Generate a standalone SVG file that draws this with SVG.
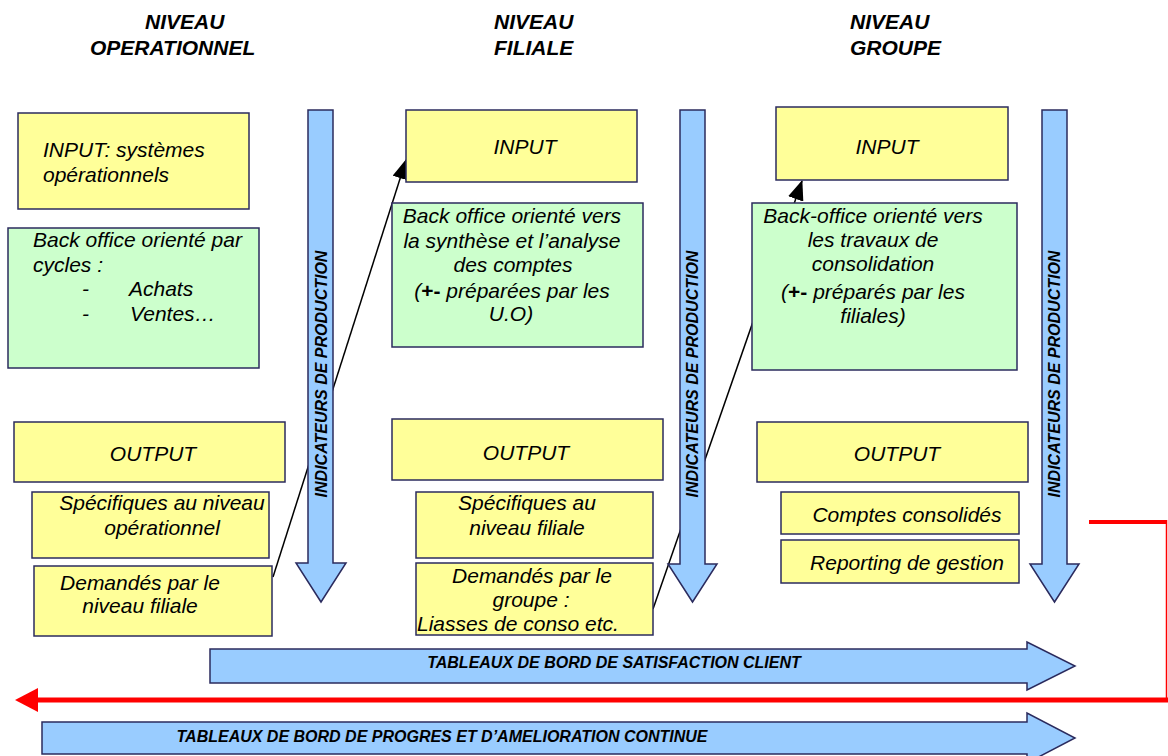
<svg xmlns="http://www.w3.org/2000/svg" width="1168" height="756" viewBox="0 0 1168 756">
  <style>
    .yel { fill: #FFFF99; stroke: #2B2B5E; stroke-width: 1.5; }
    .grn { fill: #CCFFCC; stroke: #2B2B5E; stroke-width: 1.5; }
    .blu { fill: #99CCFF; stroke: #2B2B5E; stroke-width: 1.5; }
    .t { font-family: "Liberation Sans", Arial, sans-serif; font-style: italic; font-size: 21px; fill: #000; }
    .m { text-anchor: middle; }
    .hd { font-family: "Liberation Sans", Arial, sans-serif; font-style: italic; font-weight: bold; font-size: 21px; fill: #000; }
    .al { font-family: "Liberation Sans", Arial, sans-serif; font-style: italic; font-weight: bold; font-size: 16px; fill: #000; text-anchor: middle; }
    .pm { font-weight: bold; font-style: normal; }
    .conn { stroke: #000; stroke-width: 1.5; fill: none; marker-end: url(#ah); }
  </style>
  <defs>
    <marker id="ah" markerUnits="userSpaceOnUse" markerWidth="20" markerHeight="16" refX="19" refY="8" orient="auto">
      <path d="M0,0 L20,8 L0,16 z" fill="#000"/>
    </marker>
  </defs>

  <!-- column headers -->
  <g id="headers">
    <text class="hd" x="145" y="29">NIVEAU</text>
    <text class="hd" x="90" y="55">OPERATIONNEL</text>
    <text class="hd" x="494" y="29">NIVEAU</text>
    <text class="hd" x="494" y="55">FILIALE</text>
    <text class="hd" x="850" y="29">NIVEAU</text>
    <text class="hd" x="850" y="55">GROUPE</text>
  </g>

  <!-- connectors (drawn beneath boxes and flow arrows) -->
  <g id="connectors">
    <line class="conn" x1="273" y1="577" x2="406" y2="160"/>
    <line class="conn" x1="653" y1="609" x2="802" y2="181"/>
  </g>

  <!-- operational level -->
  <g id="op-input">
    <rect class="yel" x="18" y="113" width="231" height="96"/>
    <text class="t" x="43" y="157">INPUT: systèmes</text>
    <text class="t" x="43" y="182">opérationnels</text>
  </g>
  <g id="op-backoffice">
    <rect class="grn" x="8" y="228" width="251" height="140"/>
    <text class="t" x="33" y="247">Back office orienté par</text>
    <text class="t" x="33" y="272">cycles :</text>
    <text class="t" x="82" y="296">-</text>
    <text class="t" x="129" y="296">Achats</text>
    <text class="t" x="82" y="321">-</text>
    <text class="t" x="130" y="321">Ventes…</text>
  </g>
  <g id="op-output">
    <rect class="yel" x="14" y="422" width="271" height="60"/>
    <text class="t m" x="153" y="461">OUTPUT</text>
  </g>
  <g id="op-specifiques">
    <rect class="yel" x="32" y="492" width="237" height="66"/>
    <text class="t m" x="162" y="510">Spécifiques au niveau</text>
    <text class="t m" x="162" y="535">opérationnel</text>
  </g>
  <g id="op-demandes">
    <rect class="yel" x="34" y="566" width="238" height="70"/>
    <text class="t m" x="140" y="590">Demandés par le</text>
    <text class="t m" x="140" y="613">niveau filiale</text>
  </g>

  <!-- subsidiary level -->
  <g id="fil-input">
    <rect class="yel" x="406" y="110" width="231" height="72"/>
    <text class="t m" x="525" y="154">INPUT</text>
  </g>
  <g id="fil-backoffice">
    <rect class="grn" x="392" y="203" width="251" height="144"/>
    <text class="t m" x="512" y="223">Back office orienté vers</text>
    <text class="t m" x="512" y="248">la synthèse et l’analyse</text>
    <text class="t m" x="513" y="272">des comptes</text>
    <text class="t m" x="512" y="298">(<tspan class="pm">+-</tspan> préparées par les</text>
    <text class="t m" x="511" y="321">U.O)</text>
  </g>
  <g id="fil-output">
    <rect class="yel" x="392" y="419" width="271" height="61"/>
    <text class="t m" x="526" y="460">OUTPUT</text>
  </g>
  <g id="fil-specifiques">
    <rect class="yel" x="416" y="492" width="237" height="66"/>
    <text class="t m" x="527" y="510">Spécifiques au</text>
    <text class="t m" x="527" y="535">niveau filiale</text>
  </g>
  <g id="fil-demandes">
    <rect class="yel" x="416" y="563" width="237" height="72"/>
    <text class="t m" x="532" y="583">Demandés par le</text>
    <text class="t m" x="531" y="607">groupe :</text>
    <text class="t" x="417" y="631">Liasses de conso etc.</text>
  </g>

  <!-- group level -->
  <g id="grp-input">
    <rect class="yel" x="776" y="107" width="232" height="73"/>
    <text class="t m" x="887" y="154">INPUT</text>
  </g>
  <g id="grp-backoffice">
    <rect class="grn" x="752" y="203" width="265" height="167"/>
    <text class="t m" x="873" y="223">Back-office orienté vers</text>
    <text class="t m" x="873" y="247">les travaux de</text>
    <text class="t m" x="873" y="271">consolidation</text>
    <text class="t m" x="873" y="299">(<tspan class="pm">+-</tspan> préparés par les</text>
    <text class="t m" x="873" y="323">filiales)</text>
  </g>
  <g id="grp-output">
    <rect class="yel" x="757" y="422" width="271" height="60"/>
    <text class="t m" x="897" y="461">OUTPUT</text>
  </g>
  <g id="grp-comptes">
    <rect class="yel" x="781" y="492" width="238" height="42"/>
    <text class="t m" x="907" y="522">Comptes consolidés</text>
  </g>
  <g id="grp-reporting">
    <rect class="yel" x="781" y="540" width="238" height="43"/>
    <text class="t m" x="907" y="570">Reporting de gestion</text>
  </g>

  <!-- production indicator arrows -->
  <g id="ind-op">
    <path class="blu" d="M308,110 H333 V563 H346 L321,602 L296,563 H308 Z"/>
    <text class="al" transform="translate(327,374) rotate(-90)">INDICATEURS DE PRODUCTION</text>
  </g>
  <g id="ind-fil">
    <path class="blu" d="M680,110 H705 V564 H717 L692.5,602 L668,564 H680 Z"/>
    <text class="al" transform="translate(698,374) rotate(-90)">INDICATEURS DE PRODUCTION</text>
  </g>
  <g id="ind-grp">
    <path class="blu" d="M1042,110 H1067 V564 H1079 L1054.5,602 L1030,564 H1042 Z"/>
    <text class="al" transform="translate(1060,374) rotate(-90)">INDICATEURS DE PRODUCTION</text>
  </g>

  <!-- dashboards -->
  <g id="tb-satisfaction">
    <path class="blu" d="M210,649 H1027 V642 L1075,666 L1027,690 V683 H210 Z"/>
    <text class="al" x="614" y="668">TABLEAUX DE BORD DE SATISFACTION CLIENT</text>
  </g>
  <g id="tb-progres">
    <path class="blu" d="M42,722 H1027 V713 L1075,738 L1027,763 V754 H42 Z"/>
    <text class="al" x="442" y="742">TABLEAUX DE BORD DE PROGRES ET D’AMELIORATION CONTINUE</text>
  </g>

  <!-- feedback loop -->
  <g id="feedback">
    <line x1="1089" y1="522" x2="1166" y2="522" stroke="#FF0000" stroke-width="4"/>
    <line x1="1166.5" y1="520" x2="1166.5" y2="700" stroke="#FF0000" stroke-width="1.5"/>
    <line x1="1168" y1="700" x2="34" y2="700" stroke="#FF0000" stroke-width="5"/>
    <polygon points="15,700 38,688 38,712" fill="#FF0000"/>
  </g>
</svg>
